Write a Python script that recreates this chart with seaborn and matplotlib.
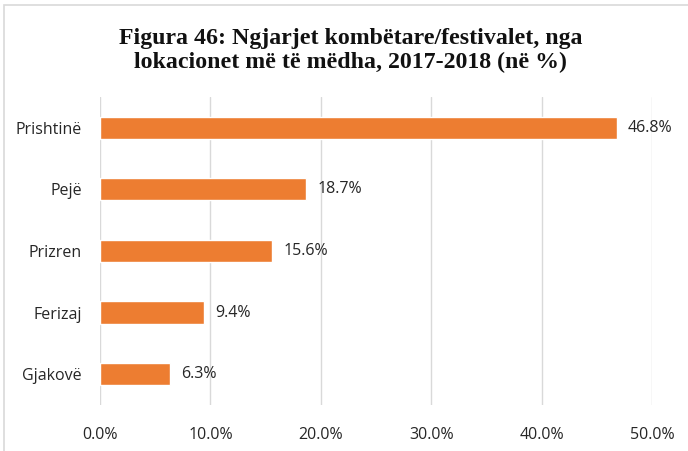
import matplotlib
matplotlib.use("Agg")
import matplotlib.pyplot as plt
import seaborn as sns
import pandas as pd
from matplotlib.patches import Rectangle

locations = ["Prishtinë", "Pejë", "Prizren", "Ferizaj", "Gjakovë"]
shares = [46.8, 18.7, 15.6, 9.4, 6.3]
x_ticks = [0, 10, 20, 30, 40, 50]
x_tick_labels = ["0.0%", "10.0%", "20.0%", "30.0%", "40.0%", "50.0%"]
title = "Figura 46: Ngjarjet kombëtare/festivalet, nga\nlokacionet më të mëdha, 2017-2018 (në %)"

df = pd.DataFrame({"lokacioni": locations, "perqindja": shares})

sns.set_style("white")
plt.rcParams["font.family"] = ["Open Sans", "DejaVu Sans"]

fig = plt.figure(figsize=(6.88, 4.51), dpi=100)
ax = fig.add_axes([0.1453, 0.102, 0.8024, 0.683])

sns.barplot(data=df, x="perqindja", y="lokacioni", color="#ED7D31",
            width=0.36, ax=ax, saturation=1)

ax.set_xlim(0, 50)
ax.set_xticks(x_ticks)
ax.set_xticklabels(x_tick_labels)
ax.set_xlabel("")
ax.set_ylabel("")
ax.grid(axis="x", color="#D9D9D9", linewidth=1)
ax.set_axisbelow(True)
for s in ax.spines.values():
    s.set_visible(False)
ax.tick_params(axis="x", length=0, pad=16, labelsize=11.5, colors="#262626")
ax.tick_params(axis="y", length=0, pad=13, labelsize=11.5, colors="#262626")

for cont in ax.containers:
    ax.bar_label(cont, labels=[f"{v:.1f}%" for v in shares], padding=8,
                 fontsize=11.5, color="#262626")

fig.text(0.510, 0.888, title, ha="center", va="center", fontsize=17.2,
         fontweight="bold", family=["Liberation Serif", "DejaVu Serif"],
         linespacing=1.22, color="#111111")

fig.patches.append(Rectangle((4 / 688, -0.05), 1.2, 1 - 4.5 / 451 + 0.05,
                             transform=fig.transFigure, fill=False,
                             edgecolor="#D9D9D9", linewidth=1.2))

fig.savefig("out.png", dpi=100)
